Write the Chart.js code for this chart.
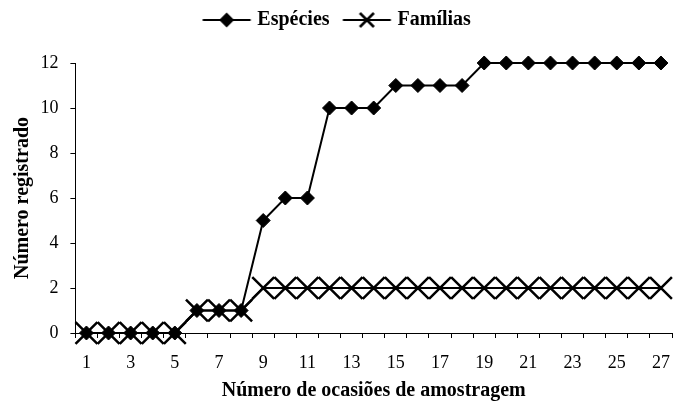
<!DOCTYPE html>
<html>
<head>
<meta charset="utf-8">
<script src="https://cdn.jsdelivr.net/npm/chart.js@4.4.1/dist/chart.umd.min.js"></script>
<style>
  html, body { margin: 0; padding: 0; overflow: hidden; background: #fff; }
  #wrap { width: 690px; height: 408px; }
</style>
</head>
<body>
<div id="wrap"><canvas id="c" width="690" height="408"></canvas></div>
<script>
const categories = ['1','2','3','4','5','6','7','8','9','10','11','12','13','14','15','16','17','18','19','20','21','22','23','24','25','26','27'];
const xTickLabels = ['1','','3','','5','','7','','9','','11','','13','','15','','17','','19','','21','','23','','25','','27'];
const especies = [0,0,0,0,0,1,1,1,5,6,6,10,10,10,11,11,11,11,12,12,12,12,12,12,12,12,12];
const familias = [0,0,0,0,0,1,1,1,2,2,2,2,2,2,2,2,2,2,2,2,2,2,2,2,2,2,2];
const yTicks = [0,2,4,6,8,10,12];
const seriesNames = ['Espécies','Famílias'];

const FONT = '"Liberation Serif", "Times New Roman", Times, serif';

function makeIcon(kind) {
  const c = document.createElement('canvas');
  c.width = 60; c.height = 20;
  const g = c.getContext('2d');
  g.strokeStyle = '#000'; g.fillStyle = '#000';
  g.lineWidth = 2;
  g.beginPath(); g.moveTo(9.3, 10); g.lineTo(57.3, 10); g.stroke();
  const cx = 33.3, cy = 10;
  if (kind === 'diamond') {
    g.beginPath();
    g.moveTo(cx - 7.5, cy); g.lineTo(cx, cy - 7.5); g.lineTo(cx + 7.5, cy); g.lineTo(cx, cy + 7.5);
    g.closePath(); g.fill();
  } else {
    g.lineWidth = 2.5;
    g.beginPath();
    g.moveTo(cx - 7, cy - 7); g.lineTo(cx + 7, cy + 7);
    g.moveTo(cx + 7, cy - 7); g.lineTo(cx - 7, cy + 7);
    g.stroke();
  }
  return c;
}
const icons = [makeIcon('diamond'), makeIcon('cross')];

const legendTweak = {
  id: 'legendTweak',
  afterInit(chart) {
    const lg = chart.legend;
    if (!lg || lg._tweaked) return;
    const fit = lg.fit;
    lg.fit = function () { fit.call(this); this.height = 63; };
    const draw = lg.draw;
    lg.draw = function () {
      const s = -8;
      this.left += s; this.right += s;
      draw.call(this);
      this.left -= s; this.right -= s;
    };
    lg._tweaked = true;
  }
};

new Chart(document.getElementById('c'), {
  type: 'line',
  data: {
    labels: categories,
    datasets: [
      {
        label: seriesNames[0],
        data: especies,
        borderColor: '#000',
        backgroundColor: '#000',
        borderWidth: 2,
        pointStyle: 'rectRot',
        pointRadius: 7,
        pointBorderWidth: 1,
        pointBackgroundColor: '#000',
        pointBorderColor: '#000',
        tension: 0,
        clip: false
      },
      {
        label: seriesNames[1],
        data: familias,
        borderColor: '#000',
        backgroundColor: '#000',
        borderWidth: 2,
        pointStyle: 'crossRot',
        pointRadius: 15.5,
        pointBorderWidth: 2.5,
        pointBackgroundColor: '#000',
        pointBorderColor: '#000',
        tension: 0,
        clip: false
      }
    ]
  },
  options: {
    responsive: false,
    animation: false,
    devicePixelRatio: window.devicePixelRatio || 1,
    layout: { padding: { left: 0, right: 3.8, top: 0, bottom: 0 } },
    events: [],
    plugins: {
      tooltip: { enabled: false },
      legend: {
        display: true,
        position: 'top',
        align: 'center',
        labels: {
          usePointStyle: true,
          pointStyleWidth: 48,
          padding: 10,
          color: '#000',
          font: { family: FONT, size: 20, weight: 'bold' },
          generateLabels(chart) {
            return chart.data.datasets.map((ds, i) => ({
              text: ds.label,
              pointStyle: icons[i],
              fillStyle: '#000',
              strokeStyle: '#000',
              lineWidth: 0,
              hidden: false,
              datasetIndex: i,
              fontColor: '#000'
            }));
          }
        }
      }
    },
    scales: {
      x: {
        type: 'category',
        offset: true,
        grid: {
          display: true,
          offset: true,
          drawOnChartArea: false,
          drawTicks: true,
          tickLength: 5,
          color: '#000',
          lineWidth: 1
        },
        border: { display: true, color: '#000', width: 1 },
        ticks: {
          autoSkip: false,
          maxRotation: 0,
          minRotation: 0,
          padding: 14,
          color: '#000',
          font: { family: FONT, size: 18 },
          callback: (v, i) => xTickLabels[i]
        },
        title: {
          display: true,
          text: 'Número de ocasiões de amostragem',
          color: '#000',
          font: { family: FONT, size: 20, weight: 'bold' },
          padding: { top: 0, bottom: 5 }
        },
        afterFit(scale) { scale.height = 75; }
      },
      y: {
        min: 0,
        max: 12,
        grid: {
          display: true,
          drawOnChartArea: false,
          drawTicks: true,
          tickLength: 5,
          color: '#000',
          lineWidth: 1
        },
        border: { display: true, color: '#000', width: 1 },
        afterBuildTicks(scale) { scale.ticks = yTicks.map(v => ({ value: v })); },
        ticks: {
          padding: 12,
          color: '#000',
          font: { family: FONT, size: 18 }
        },
        title: {
          display: true,
          text: 'Número registrado',
          color: '#000',
          font: { family: FONT, size: 20, weight: 'bold' },
          padding: { top: 11, bottom: 0 }
        },
        afterFit(scale) { scale.width = 75.4; }
      }
    }
  },
  plugins: [legendTweak]
});
</script>
</body>
</html>
